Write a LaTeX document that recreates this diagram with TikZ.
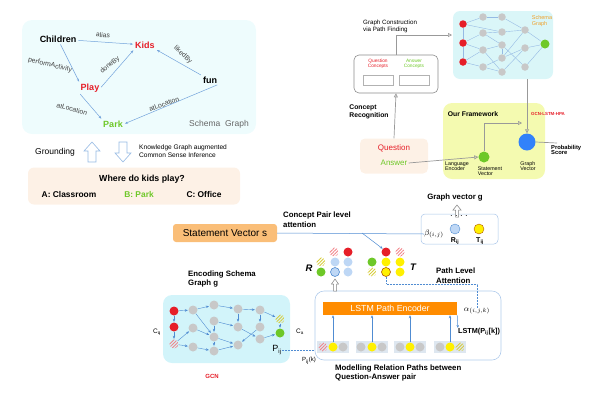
\documentclass[tikz,border=0pt]{standalone}
\usepackage{fontspec}
\setmainfont{Liberation Sans}
\usetikzlibrary{arrows.meta, positioning, patterns.meta, calc}

\definecolor{kgred}{RGB}{230,30,40}
\definecolor{kggreen}{RGB}{110,200,40}
\definecolor{edgeblue}{RGB}{80,140,210}
\definecolor{nodegray}{RGB}{200,200,200}
\definecolor{panelcyan}{RGB}{238,252,253}
\definecolor{gcncyan}{RGB}{210,244,250}
\definecolor{sgcyan}{RGB}{218,246,248}
\definecolor{peach}{RGB}{253,241,230}
\definecolor{lime}{RGB}{244,250,176}
\definecolor{barorange}{RGB}{255,140,0}
\definecolor{svorange}{RGB}{250,190,120}
\definecolor{dotyellow}{RGB}{255,240,0}
\definecolor{lightblue}{RGB}{190,215,245}
\definecolor{vecblue}{RGB}{50,130,250}
\definecolor{pathbg}{RGB}{222,231,240}
\definecolor{schemaorange}{RGB}{240,160,40}
\definecolor{stripeyel}{RGB}{215,205,60}

\newcommand{\fs}[1]{\fontsize{#1}{#1}\selectfont}

\begin{document}
\begin{tikzpicture}[x=1pt, y=-1pt,
  kg/.style={font=\fs{9}\bfseries, inner sep=1pt},
  rel/.style={font=\fs{6.8}, text=black!75, inner sep=0.5pt},
  kgedge/.style={-{Stealth[length=3pt]}, edgeblue!80, line width=0.5pt, shorten >=1pt, shorten <=1pt},
  hollow/.style={draw=edgeblue!60, fill=white, line width=0.6pt},
  grayarrow/.style={draw=black!40, line width=0.7pt, -{Triangle[open, length=4pt, width=4pt]}},
  bline/.style={edgeblue, line width=0.5pt},
  barrow/.style={bline, -{Stealth[length=3pt, width=2.5pt]}},
  dot/.style={circle, inner sep=0pt, minimum size=9pt},
  gdot/.style={dot, fill=nodegray},
  rdot/.style={dot, fill=kgred},
  grdot/.style={dot, fill=kggreen},
  ydot/.style={dot, fill=dotyellow},
  bdot/.style={dot, fill=lightblue},
  sred/.style={dot, pattern={Lines[angle=45, distance=2.3pt, line width=0.9pt]}, pattern color=kgred!55},
  syel/.style={dot, pattern={Lines[angle=45, distance=2.3pt, line width=0.9pt]}, pattern color=stripeyel},
  sgdot/.style={circle, inner sep=0pt, minimum size=7.5pt, fill=nodegray},
  sgedge/.style={edgeblue!60, line width=0.4pt},
  head/.style={font=\fs{7.8}\bfseries, align=left, inner sep=0pt},
  small/.style={font=\fs{5.3}, align=left, inner sep=0pt}]
\useasboundingbox (0,0) rectangle (600,400);

% Schema graph of the question
\node[fill=panelcyan, rounded corners=10pt, minimum width=234pt, minimum height=114pt] (kgpanel) at (139,77) {};
\node[kg] (children) at (58,39) {Children};
\node[kg, text=kgred] (kids) at (145,45) {Kids};
\node[kg, text=kgred] (play) at (90,88) {Play};
\node[kg] (fun) at (210,80) {fun};
\node[kg, text=kggreen] (park) at (113,124) {Park};
\node[font=\fs{8.5}, text=black!60] (sglabel) at (219,124) {Schema\ \ Graph};
\draw[kgedge] (children) -- (kids);
\draw[kgedge] (children.south) ++(2,0) -- (play.north west);
\draw[kgedge] (play.east) -- (kids.south west);
\draw[kgedge] (fun.north west) -- (kids.south east);
\draw[kgedge] (play.south west) -- (park.north west);
\draw[kgedge] (fun.south east) -- (park.east);
\node[rel, rotate=-6] (lalias) at (103,35) {alias};
\node[rel, rotate=-14] (lperf) at (50,65) {performActivity};
\node[rel, rotate=40] (ldone) at (110,65) {doneBy};
\node[rel, rotate=-42] (lliked) at (183,55) {likedBy};
\node[rel, rotate=-16] (lloc1) at (72,109) {atLocation};
\node[rel, rotate=20] (lloc2) at (164,104) {atLocation};

% Grounding / inference
\node[font=\fs{8.5}] (grounding) at (55,152) {Grounding};
\draw[hollow] (88,162) -- (88,151) -- (84,151) -- (92,142) -- (100,151) -- (96,151) -- (96,162) -- cycle;
\draw[hollow] (119,142) -- (119,153) -- (115,153) -- (123,162) -- (131,153) -- (127,153) -- (127,142) -- cycle;
\node[font=\fs{6.6}, align=left, anchor=west, inner sep=0pt] (kgainf) at (139,151) {Knowledge Graph augmented\\[1pt]Common Sense Inference};

\node[fill=peach, rounded corners=6pt, minimum width=212pt, minimum height=37pt] (qpanel) at (134,186) {};
\node[font=\fs{8.8}\bfseries] (question) at (142,179) {Where do kids play?};
\node[font=\fs{8.4}\bfseries] (ansa) at (69,194) {A: Classroom};
\node[font=\fs{8.4}\bfseries, text=kggreen] (ansb) at (139,194) {B: Park};
\node[font=\fs{8.4}\bfseries] (ansc) at (204,194) {C: Office};

% Framework overview
\node[font=\fs{6.2}, align=left, anchor=west, inner sep=0pt] (gconst) at (363,26) {Graph Construction\\[1pt]via Path Finding};
\node[draw=black!45, line width=0.6pt, rounded corners=5pt, minimum width=84pt, minimum height=38pt] (concepts) at (396,74) {};
\node[font=\fs{4.8}, text=kgred, align=center] (qconc) at (378,64) {Question\\Concepts};
\node[font=\fs{4.8}, text=kggreen, align=center] (aconc) at (414,64) {Answer\\Concepts};
\node[draw=black!30, minimum width=30pt, minimum height=10pt, inner sep=0pt] (qslot) at (378,80) {};
\node[draw=black!30, minimum width=30pt, minimum height=10pt, inner sep=0pt] (aslot) at (414,80) {};

\node[fill=sgcyan, rounded corners=7pt, minimum width=100pt, minimum height=68pt] (sgpanel) at (503,45) {};
\coordinate (sgin) at (452,35);
\draw[grayarrow] (concepts.north) |- (sgin);
\foreach \n/\x/\y in {sa1/483/17, sa2/483/33, sa3/483/50, sa4/483/67,
                      sb1/502/17, sb2/502/32, sb3/502/45, sb4/502/58, sb5/502/72,
                      sc1/525/30, sc2/525/48, sc3/525/67}
  \node[sgdot] (\n) at (\x,\y) {};
\node[sgdot, fill=kgred] (sr1) at (463,24) {};
\node[sgdot, fill=kgred] (sr2) at (463,43) {};
\node[sgdot, fill=kgred] (sr3) at (463,62) {};
\node[sgdot, fill=kggreen, minimum size=9pt] (sgreen) at (545,44) {};
\foreach \a/\b in {sr1/sa1, sr1/sb2, sr1/sr2, sr2/sa2, sr2/sa3, sr2/sr3, sr3/sa3, sr3/sa4,
                   sa1/sb1, sa2/sb2, sa2/sb3, sa3/sb3, sa3/sb5, sa4/sb4, sa4/sb5,
                   sb1/sc1, sb2/sc1, sb3/sc3, sb4/sc1, sb4/sc2, sb5/sc2, sb3/sb4,
                   sc1/sgreen, sc2/sgreen, sc3/sgreen}
  \draw[sgedge] (\a) -- (\b);
\node[font=\fs{5.5}, text=schemaorange, align=left] (sgname) at (542,21) {Schema\\Graph};

\node[head, font=\fs{6.8}\bfseries] (crecog) at (369,112) {Concept\\[1pt]Recognition};
\node[fill=peach, rounded corners=5pt, minimum width=68pt, minimum height=35pt] (qabox) at (394,156) {};
\node[font=\fs{8}, text=kgred, inner sep=1pt] (qword) at (394,148) {Question};
\node[font=\fs{8}, text=kggreen, inner sep=1pt] (aword) at (394,163) {Answer};
\draw[grayarrow] (qabox.north) -- (concepts.south);

\node[fill=lime, rounded corners=9pt, minimum width=102pt, minimum height=76pt] (frame) at (494,141) {};
\node[font=\fs{6.8}\bfseries] (ourfw) at (473,114) {Our Framework};
\node[font=\fs{4.4}\bfseries, text=kgred] (hpa) at (548,114) {GCN-LSTM-HPA};
\node[dot, fill=kggreen, minimum size=11pt] (svec) at (484,157) {};
\node[dot, fill=vecblue, minimum size=17pt] (gvec) at (527,142) {};
\coordinate (gvin) at (522,123);
\coordinate (probin) at (557,143);
\draw[grayarrow] (aword.east) -- (svec.west);
\draw[grayarrow] (svec.north) |- (gvin);
\draw[grayarrow] (gvec |- sgpanel.south) -- (gvec.north);
\draw[draw=black!40, line width=0.7pt] (gvec.east) -- (probin);
\node[small] (langenc) at (457,166) {Language\\Encoder};
\node[small] (stvec) at (490,171) {Statement\\Vector};
\node[small] (grvec) at (528,166) {Graph\\Vector};
\node[small, font=\fs{5.8}\bfseries, anchor=west] (prob) at (551,150) {Probability\\Score};

% Statement vector and attention
\node[fill=svorange, rounded corners=3pt, minimum width=104pt, minimum height=18pt, font=\fs{10}] (svs) at (225,233) {Statement Vector s};
\node[head, anchor=west] (cpa) at (283,220) {Concept Pair level\\[2pt]attention};
\node[head] (gvtitle) at (455,197) {Graph vector g};
\node[draw=edgeblue!50, line width=0.5pt, rounded corners=4pt, minimum width=77pt, minimum height=30pt] (gvbox) at (459.5,229) {};
\draw[draw=black!50, fill=white, line width=0.5pt] (455.5,217) -- (455.5,210) -- (453,210) -- (457,205) -- (461,210) -- (458.5,210) -- (458.5,217) -- cycle;
\node[font=\fs{6}\bfseries, inner sep=0pt] (gvdots) at (459,216) {.\ \ .\ \ .\ \ .};
\node[inner sep=0pt, font=\fs{8}] (beta) at (434,234) {$\beta_{(i,j)}$};
\node[dot, fill=lightblue, draw=edgeblue, minimum size=10pt] (rij) at (455,229) {};
\node[dot, fill=dotyellow, draw=orange!70!black, minimum size=10pt] (tij) at (479,229) {};
\node[font=\fs{7}\bfseries, inner sep=0pt] (rijl) at (455,241) {R\textsubscript{ij}};
\node[font=\fs{7}\bfseries, inner sep=0pt] (tijl) at (480,241) {T\textsubscript{ij}};

% R and T concept clusters
\node[sred] (r1) at (334,252) {};
\node[rdot] (r2) at (348,252) {};
\node[syel] (r3) at (321,262) {};
\node[bdot] (r4) at (335,262) {};
\node[bdot] (r5) at (348,262) {};
\node[grdot] (r6) at (321,272) {};
\node[bdot, draw=edgeblue, line width=0.6pt] (r7) at (335,272) {};
\node[bdot] (r8) at (348,272) {};
\node[font=\fs{9.5}\bfseries\itshape] (rlabel) at (309,268) {R};
\node[rdot] (t1) at (386,252) {};
\node[sred] (t2) at (400,252) {};
\node[grdot] (t3) at (372,262) {};
\node[ydot] (t4) at (386,262) {};
\node[ydot] (t5) at (400,262) {};
\node[syel] (t6) at (372,272) {};
\node[ydot, draw=orange!70!black, line width=0.6pt] (t7) at (386,272) {};
\node[ydot] (t8) at (400,272) {};
\node[font=\fs{9.5}\bfseries\itshape] (tlabel) at (413,267) {T};
\coordinate (branch) at (362,233);
\draw[bline] (svs.east) -- (beta.west);
\draw[barrow] (branch) -- (t1.north west);
\node[head, anchor=west] (pla) at (436,276) {Path Level\\[2pt]Attention};

% LSTM path encoder
\node[draw=edgeblue!45, line width=0.6pt, rounded corners=9pt, minimum width=186pt, minimum height=69pt] (lstmbox) at (408,325.5) {};
\node[fill=barorange, minimum width=134pt, minimum height=13pt, inner sep=0pt, text=white, font=\fs{8.8}] (bar) at (390,308.5) {LSTM Path Encoder};
\draw[draw=black!50, fill=white, line width=0.5pt] (333.5,291) -- (333.5,284) -- (331.5,284) -- (335,279) -- (338.5,284) -- (336.5,284) -- (336.5,291) -- cycle;
\foreach \g/\x in {1/333, 2/372, 3/410, 4/450}
  \node[fill=pathbg, minimum width=32pt, minimum height=12pt, inner sep=0pt] (pbg\g) at (\x,347) {};
\node[sred] (p1a) at (323,347) {};
\node[ydot] (p1b) at (333,347) {};
\node[gdot] (p1c) at (343,347) {};
\node[gdot] (p2a) at (361,347) {};
\node[ydot] (p2b) at (372,347) {};
\node[gdot] (p2c) at (382,347) {};
\node[gdot] (p3a) at (400,347) {};
\node[ydot] (p3b) at (410,347) {};
\node[gdot] (p3c) at (420,347) {};
\node[gdot] (p4a) at (440,347) {};
\node[ydot] (p4b) at (450,347) {};
\node[syel] (p4c) at (460,347) {};
\foreach \g in {1,2,3,4}
  \draw[barrow] (p\g b.north) -- (p\g b.north |- bar.south);
\node[font=\fs{8}, inner sep=0pt] (alpha) at (477,311) {$\alpha_{(i,j,k)}$};
\node[font=\fs{7.3}\bfseries, inner sep=0pt] (lstml) at (479,332) {LSTM(P\textsubscript{ij}[k])};
\draw[bline, densely dotted] (t7.south) -- ++(0,7) -| (alpha.north);
\draw[barrow] (bar.south east) -- (lstml.north west);
\node[head, anchor=west] (modl) at (335,373) {Modelling Relation Paths between\\[2pt]Question-Answer pair};

% GCN over the schema graph
\node[head, anchor=west] (encg) at (188,279) {Encoding Schema\\[2pt]Graph g};
\node[fill=gcncyan, rounded corners=9pt, minimum width=127pt, minimum height=68pt] (gcnpanel) at (226.5,329) {};
\node[rdot] (gq1) at (174,311) {};
\node[rdot] (gq2) at (174,327) {};
\node[sred] (gq3) at (174,344) {};
\foreach \n/\x/\y in {ga1/193/310, ga2/193/328, ga3/193/347,
                      gb1/214/305, gb2/214/321, gb3/214/337, gb4/214/351,
                      gc1/238/309, gc2/238/327, gc3/238/345,
                      gd1/260/310, gd2/260/327, gd3/260/339}
  \node[gdot] (\n) at (\x,\y) {};
\node[syel] (gys) at (280,319) {};
\node[grdot] (gga) at (280,333) {};
\foreach \a/\b in {gq1/ga1, gq1/gq2, gq2/gq3, gq3/ga2, gq3/ga3, ga1/gb1, ga1/gb3,
                   gb1/gc1, gb2/gc2, ga2/gb3, gb3/gc3, ga3/gb4, gb4/gc3, gb3/gb4,
                   gc1/gd1, gc1/gc2, gd1/gd2, gd2/gc3, gc2/gd3, gd3/gga, gd1/gys, gys/gga, gb2/gb3}
  \draw[barrow, line width=0.4pt, shorten >=0.5pt] (\a) -- (\b);
\node[font=\fs{6.5}, inner sep=0pt] (cq) at (157,332) {C\textsubscript{q}};
\node[font=\fs{6.5}, inner sep=0pt] (ca) at (300,332) {C\textsubscript{a}};
\node[font=\fs{9}, inner sep=0pt] (pij) at (277,350) {P\textsubscript{ij}};
\node[font=\fs{6}, inner sep=0pt] (pijk) at (309,361) {P\textsubscript{ij}(k)};
\draw[bline, densely dotted] (pij.east) -- (pij.east -| lstmbox.west);
\node[font=\fs{6}\bfseries, text=kgred] (gcnl) at (212,376) {GCN};
\end{tikzpicture}
\end{document}
